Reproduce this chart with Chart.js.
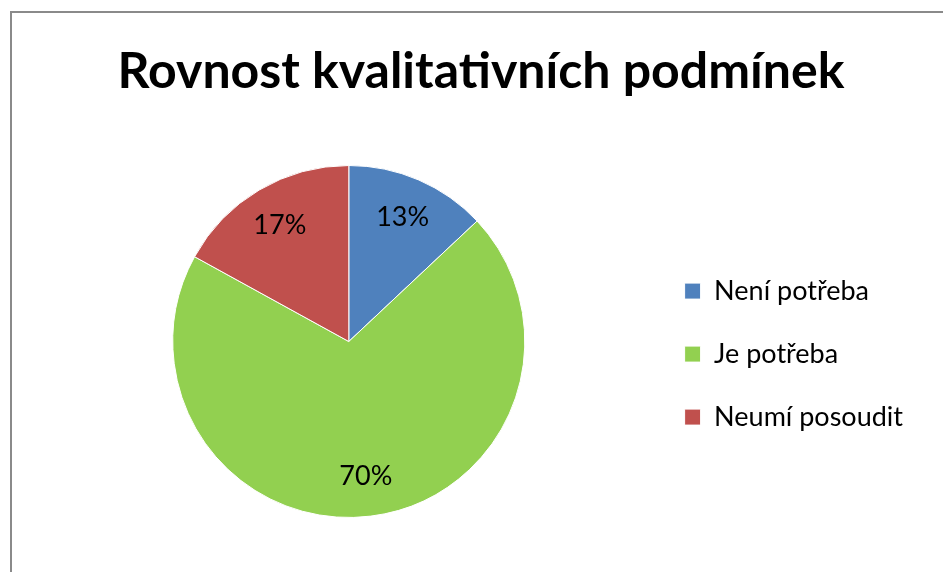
<!DOCTYPE html>
<html>
<head>
<meta charset="utf-8">
<script src="https://cdn.jsdelivr.net/npm/chart.js@4/dist/chart.umd.min.js"></script>
<style>
  html, body { margin: 0; padding: 0; background: #fff; overflow: hidden; }
  #wrap { position: relative; width: 943px; height: 572px; }
  #frame {
    position: absolute; left: 10px; top: 11px; width: 1000px; height: 1000px;
    border-top: 2px solid #8a8a8a; border-left: 2px solid #8a8a8a;
  }
  canvas { position: absolute; left: 0; top: 0; }
</style>
</head>
<body>
<div id="wrap">
  <div id="frame"></div>
  <canvas id="chart" width="943" height="572"></canvas>
</div>
<script>
const categories = ['Není potřeba', 'Je potřeba', 'Neumí posoudit']
const shares = [13, 70, 17]
const sliceColors = ['#4f81bd', '#92d050', '#c0504d']

// Percent labels inside each slice
const sliceLabels = {
  id: 'sliceLabels',
  afterDatasetsDraw(chart) {
    const ctx = chart.ctx
    const meta = chart.getDatasetMeta(0)
    ctx.save()
    ctx.font = '27px Lato'
    ctx.fillStyle = '#000'
    ctx.textAlign = 'center'
    ctx.textBaseline = 'middle'
    meta.data.forEach((arc, i) => {
      const mid = (arc.startAngle + arc.endAngle) / 2
      const r = arc.outerRadius * 0.77
      ctx.fillText(shares[i] + '%', arc.x + Math.cos(mid) * r, arc.y + Math.sin(mid) * r)
    })
    ctx.restore()
  }
}

new Chart(document.getElementById('chart'), {
  type: 'pie',
  data: {
    labels: categories,
    datasets: [{
      data: shares,
      backgroundColor: sliceColors,
      borderColor: '#ffffff',
      borderWidth: 1
    }]
  },
  options: {
    responsive: false,
    animation: false,
    layout: { padding: { left: 49, right: 30, top: 0, bottom: 54 } },
    plugins: {
      title: {
        display: true,
        text: 'Rovnost kvalitativních podmínek',
        color: '#000',
        font: { family: 'Lato', size: 50, weight: 'bold' },
        padding: { top: 42, bottom: 63 }
      },
      legend: {
        position: 'right',
        fullSize: false,
        title: { display: true, text: '', padding: 12, font: { size: 1 } },
        labels: {
          color: '#000',
          font: { family: 'Lato', size: 27 },
          boxWidth: 16,
          boxHeight: 16,
          padding: 36
        }
      },
      tooltip: { enabled: false }
    }
  },
  plugins: [sliceLabels]
})
</script>
</body>
</html>
